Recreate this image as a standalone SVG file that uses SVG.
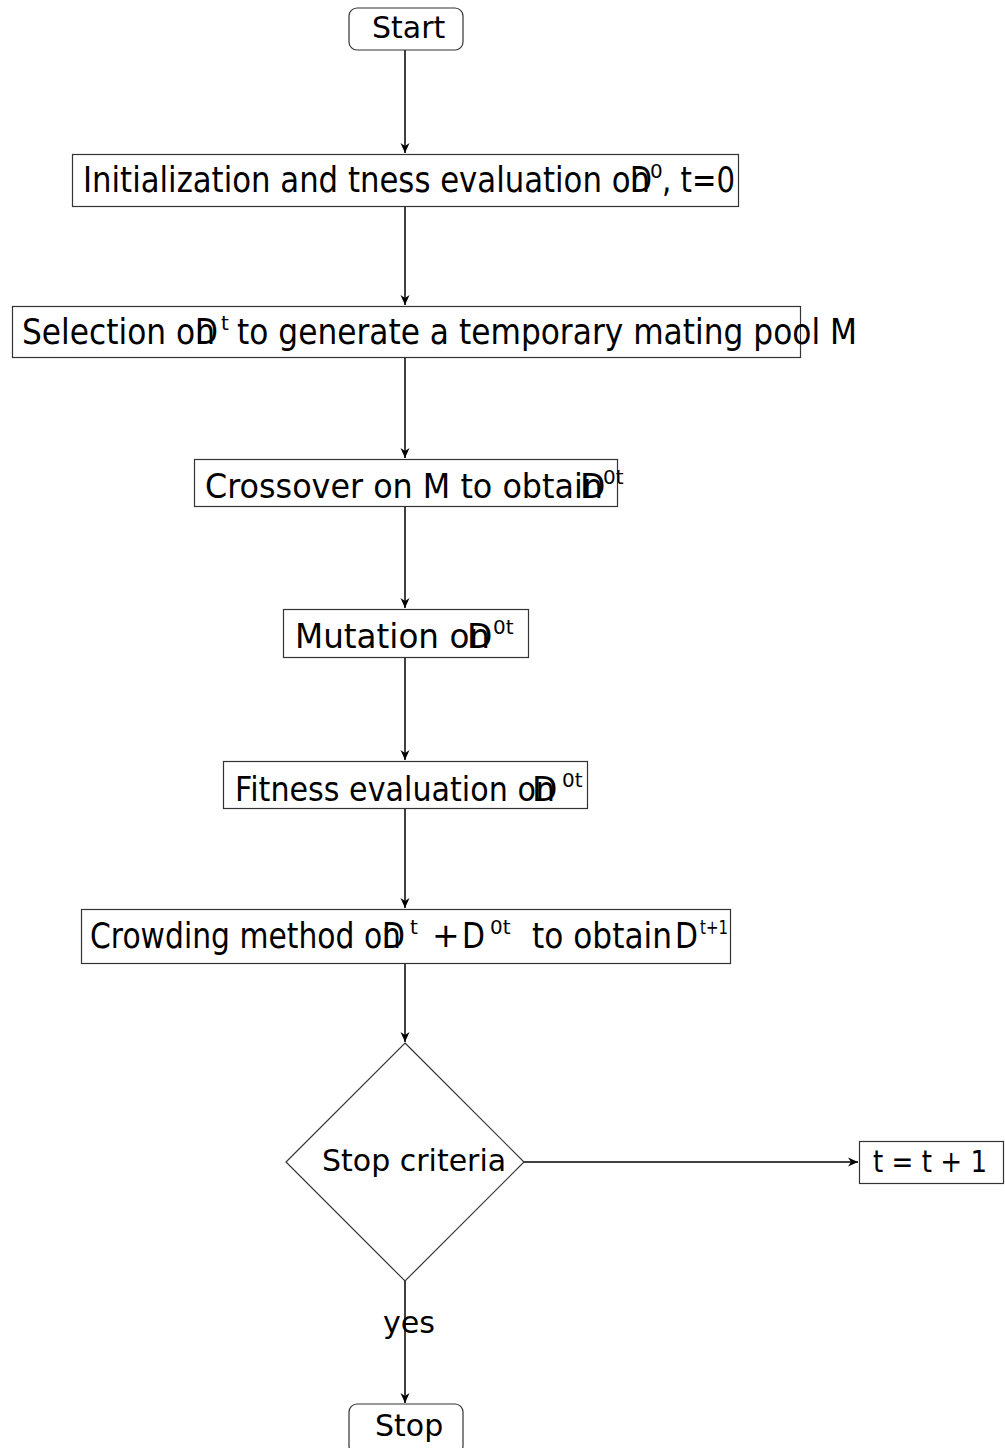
<svg xmlns="http://www.w3.org/2000/svg" width="1005" height="1448" viewBox="0 0 1005 1448">
<style>
.box{fill:#fff;stroke:#333;stroke-width:1.2}
.t{font-family:"DejaVu Sans","Verdana",sans-serif;font-size:33px;fill:#000}
.tc{font-family:"DejaVu Sans","Verdana",sans-serif;font-size:36px;fill:#000}
.sup{font-family:"DejaVu Sans","Verdana",sans-serif;font-size:20px;fill:#000}
.lbl{font-family:"DejaVu Sans","Verdana",sans-serif;font-size:30px;fill:#000}
.edge{stroke:#000;stroke-width:1.5;fill:none}
</style>
<defs>
<marker id="arr" viewBox="-11 -5 12 10" refX="0" refY="0" markerWidth="12" markerHeight="10" markerUnits="userSpaceOnUse" orient="auto">
<path d="M0,0 L-10,-4.5 L-7,0 L-10,4.5 Z" fill="#000"/>
</marker>
</defs>
<g id="connectors">
<line class="edge" x1="405" y1="50" x2="405" y2="153" marker-end="url(#arr)"/>
<line class="edge" x1="405" y1="206" x2="405" y2="305" marker-end="url(#arr)"/>
<line class="edge" x1="405" y1="357" x2="405" y2="458" marker-end="url(#arr)"/>
<line class="edge" x1="405" y1="507" x2="405" y2="608" marker-end="url(#arr)"/>
<line class="edge" x1="405" y1="658" x2="405" y2="760" marker-end="url(#arr)"/>
<line class="edge" x1="405" y1="808" x2="405" y2="908" marker-end="url(#arr)"/>
<line class="edge" x1="405" y1="963" x2="405" y2="1042" marker-end="url(#arr)"/>
<line class="edge" x1="524" y1="1162" x2="858" y2="1162" marker-end="url(#arr)"/>
<line class="edge" x1="405" y1="1281" x2="405" y2="1403" marker-end="url(#arr)"/>
<text class="lbl" x="383" y="1333" textLength="52" lengthAdjust="spacingAndGlyphs">yes</text>
</g>
<g id="start">
<rect class="box" x="349" y="8" width="114" height="42" rx="8"/>
<text class="lbl" x="372" y="38">Start</text>
</g>
<g id="init">
<rect class="box" x="72.5" y="154.5" width="666" height="52"/>
<text class="tc" x="83" y="192" textLength="567" lengthAdjust="spacingAndGlyphs">Initialization and  tness evaluation on</text>
<text class="tc" x="630" y="192" textLength="22" lengthAdjust="spacingAndGlyphs">D</text>
<text class="sup" x="650" y="178">0</text>
<text class="tc" x="662" y="192" textLength="73" lengthAdjust="spacingAndGlyphs">, t=0</text>
</g>
<g id="selection">
<rect class="box" x="12.5" y="306.5" width="788" height="51"/>
<text class="tc" x="22" y="344" textLength="193" lengthAdjust="spacingAndGlyphs">Selection on</text>
<text class="tc" x="195" y="344" textLength="23" lengthAdjust="spacingAndGlyphs">D</text>
<text class="sup" x="221" y="330">t</text>
<text class="tc" x="237" y="344" textLength="620" lengthAdjust="spacingAndGlyphs">to generate a temporary mating pool M</text>
</g>
<g id="crossover">
<rect class="box" x="194.5" y="459.5" width="423" height="47"/>
<text class="t" x="205" y="498" textLength="398" lengthAdjust="spacingAndGlyphs">Crossover on M to obtain</text>
<text class="t" x="580" y="498">D</text>
<text class="sup" x="603" y="484">0t</text>
</g>
<g id="mutation">
<rect class="box" x="283.5" y="609.5" width="245" height="48"/>
<text class="t" x="295" y="648" textLength="195" lengthAdjust="spacingAndGlyphs">Mutation on</text>
<text class="t" x="467" y="648">D</text>
<text class="sup" x="493" y="634">0t</text>
</g>
<g id="fitness">
<rect class="box" x="223.5" y="761.5" width="364" height="47"/>
<text class="t" x="235" y="801" textLength="320" lengthAdjust="spacingAndGlyphs">Fitness evaluation on</text>
<text class="t" x="532" y="801">D</text>
<text class="sup" x="562" y="787">0t</text>
</g>
<g id="crowding">
<rect class="box" x="81.5" y="909.5" width="649" height="54"/>
<text class="tc" x="90" y="948" textLength="311" lengthAdjust="spacingAndGlyphs">Crowding method on</text>
<text class="tc" x="382" y="948" textLength="23" lengthAdjust="spacingAndGlyphs">D</text>
<text class="sup" x="410" y="934">t</text>
<text class="t" x="432" y="947" font-size="26">+</text>
<text class="tc" x="462" y="948" textLength="23" lengthAdjust="spacingAndGlyphs">D</text>
<text class="sup" x="490" y="934">0t</text>
<text class="tc" x="532" y="948" textLength="140" lengthAdjust="spacingAndGlyphs">to obtain</text>
<text class="tc" x="675" y="948" textLength="23" lengthAdjust="spacingAndGlyphs">D</text>
<text class="sup" x="700" y="934" textLength="28" lengthAdjust="spacingAndGlyphs">t+1</text>
</g>
<g id="decision">
<polygon class="box" points="405,1043 524,1162 405,1281 286,1162"/>
<text class="lbl" x="322" y="1171">Stop criteria</text>
</g>
<g id="increment">
<rect class="box" x="859.5" y="1141.5" width="144" height="42"/>
<text class="lbl" x="873" y="1172" font-size="28" textLength="114" lengthAdjust="spacingAndGlyphs">t = t + 1</text>
</g>
<g id="stop">
<rect class="box" x="349" y="1404" width="114" height="50" rx="8"/>
<text class="lbl" x="375" y="1436">Stop</text>
</g>
</svg>
